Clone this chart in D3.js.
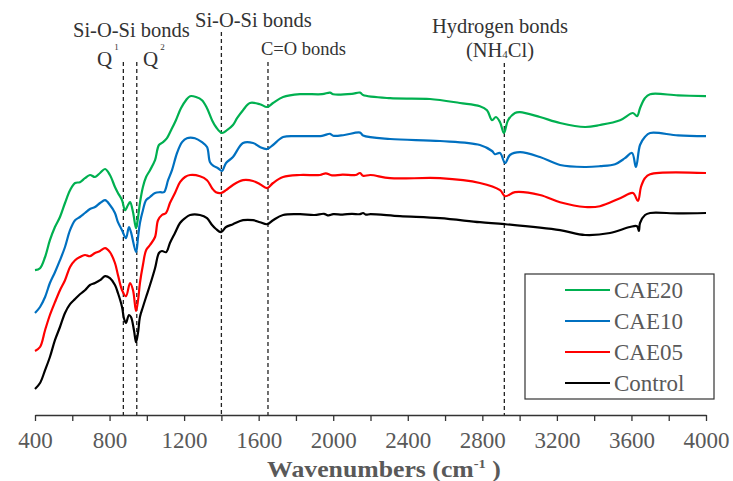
<!DOCTYPE html>
<html>
<head>
<meta charset="utf-8">
<script src="https://cdn.jsdelivr.net/npm/d3@7"></script>
<style>
  body { margin: 0; background: #fff; }
  svg { display: block; }
</style>
</head>
<body>
<div id="chart"></div>
<script>
 const width = 733;
 const height = 481;
 const serif = "Liberation Serif";

 // spectra: [wavenumber, transmittance (a.u.)]
 const control = [
   [400,6.5],[427,8],[454,11.2],[480,14.5],[507,18.7],[534,22],[561,25.5],[588,27.7],[615,29],
   [641,30.2],[668,31.2],[695,32.5],[722,33],[749,33.7],[776,34.7],[802,34.2],[829,32.5],[845,30.5],
   [867,27],[877,24.2],[888,23],[904,25],[915,24.5],[931,21.2],[942,18.2],[953,20.7],[963,24.5],
   [979,27],[996,29.5],[1017,32.5],[1044,36.7],[1065,40.5],[1081,41],[1103,40.7],[1124,43],
   [1151,45.5],[1178,48],[1205,49.2],[1232,50],[1285,50],[1323,49.2],[1350,47.5],[1371,46.5],
   [1398,45.7],[1425,47],[1462,47.7],[1516,48.7],[1570,48.7],[1607,48.2],[1645,47.7],[1677,48.7],
   [1731,50],[1822,50.2],[1900,50],[1950,50.3],[1975,49.9],[2000,50.2],[2050,50.1],[2100,50.3],
   [2144,50.2],[2160,50.5],[2175,50.1],[2200,50.2],[2358,49.7],[2573,49.2],[2787,48.2],[2922,47.7],
   [3217,46.2],[3351,45],[3485,45.5],[3592,47],[3630,47.2],[3640,46],[3646,48],[3673,50],
   [3700,50.5],[3850,50.4],[4000,50.5]
 ];
 const cae05 = [
   [400,16],[427,17],[454,21.2],[480,25],[507,28.2],[534,31.2],[561,33.7],[588,37],[615,38.7],
   [641,39.5],[668,40],[695,39.7],[722,40.5],[749,41],[776,41.7],[802,40.7],[829,38],[845,35],
   [867,31.2],[888,29.7],[910,33],[926,31.2],[942,26],[953,28.7],[963,33],[979,37.5],[996,41.2],
   [1017,42.5],[1044,44.5],[1060,48.7],[1081,50],[1103,50.5],[1124,53],[1151,55.5],[1178,58.2],
   [1205,59.5],[1232,60],[1285,59.7],[1323,58.7],[1350,56.7],[1371,55.7],[1398,55.5],[1425,56.2],
   [1462,57.5],[1516,58.7],[1570,58.5],[1607,57.7],[1645,56.7],[1677,58],[1731,59.5],[1822,60],
   [1929,60],[1960,60.4],[1993,59.9],[2050,60.1],[2120,60],[2144,60.5],[2160,59.8],[2200,60],
   [2305,59.2],[2573,59.2],[2787,58],[2895,56.2],[2922,54.7],[2975,55.7],[3109,55],[3217,53.2],
   [3351,52],[3431,52.2],[3539,54.2],[3608,55.5],[3635,53.5],[3651,57],[3672,59.2],[3700,60.2],
   [4000,60.5]
 ];
 const cae10 = [
   [400,25.5],[427,27],[454,29.5],[480,33],[507,35.7],[534,38.7],[561,42],[588,46.2],[615,48.7],
   [641,49.5],[668,50.5],[695,51.5],[722,52],[749,53],[776,53.7],[802,52.5],[829,50.5],[845,48.2],
   [867,46.2],[888,44.2],[904,47],[915,45.7],[942,40.7],[953,44.5],[963,48],[979,51.2],[996,53.7],
   [1017,54.5],[1044,55.5],[1071,55.7],[1092,55.7],[1114,58.7],[1135,61.2],[1162,65.5],[1189,68.2],
   [1215,69.2],[1258,69.2],[1296,68.2],[1323,67],[1339,63.2],[1360,62.2],[1382,61.7],[1403,61],
   [1425,63],[1462,64.5],[1516,68],[1570,68],[1607,67],[1645,66.5],[1677,67.5],[1731,69.5],
   [1822,69.7],[1940,69.8],[1983,70.3],[2000,69.8],[2060,70],[2144,70.6],[2160,69.9],[2305,69],
   [2573,68.5],[2787,67.5],[2852,66],[2868,65.2],[2895,65.5],[2922,63],[2948,65],[3002,65.7],
   [3109,64.5],[3217,62.5],[3351,62],[3431,62.2],[3512,62.7],[3565,64.2],[3603,65.5],[3624,62],
   [3646,67.5],[3672,69.5],[3700,70.5],[3850,69.9],[4000,69.7]
 ];
 const cae20 = [
   [400,36.2],[427,36.7],[454,39.5],[480,43.7],[507,47],[534,49.5],[561,53],[588,56.2],[615,58],
   [641,58.2],[668,59.2],[695,60],[722,59.5],[749,60.5],[776,61.5],[802,60],[829,57],[845,55.5],
   [867,53.7],[883,51.2],[899,52.5],[910,53.2],[926,50.7],[942,46.7],[953,49.5],[963,53],[979,57],
   [996,59.5],[1017,61.2],[1044,63.7],[1065,67.5],[1087,68.2],[1108,69.2],[1130,71.2],[1156,73.7],
   [1183,76.7],[1210,78.7],[1232,79.7],[1264,79.5],[1296,78.7],[1323,76.7],[1350,73.7],[1371,72],
   [1403,70.5],[1430,71.2],[1462,72.5],[1484,74.2],[1516,76.2],[1553,78],[1607,77.7],[1645,77],
   [1677,78],[1731,79.5],[1822,80.2],[1940,80.2],[1983,80.6],[2000,80.2],[2100,80.3],[2144,80.6],
   [2160,80],[2305,79.2],[2519,79],[2680,78],[2787,77.2],[2825,76.2],[2852,73.7],[2873,74.5],
   [2895,73.2],[2916,70.5],[2938,73.7],[2975,75.5],[3002,75.7],[3109,74.5],[3217,73],[3351,72],
   [3431,72.5],[3539,73.7],[3608,75.5],[3630,74.7],[3646,76.7],[3672,79.2],[3700,80.2],[3850,79.9],
   [4000,79.7]
 ];

 const seriesNames = ["CAE20", "CAE10", "CAE05", "Control"];
 const seriesColors = ["#00b050", "#0070c0", "#ff0000", "#000000"];
 const seriesData = [cae20, cae10, cae05, control];

 const xTicks = d3.range(400, 4001, 200);
 const xLabels = [400, 800, 1200, 1600, 2000, 2400, 2800, 3200, 3600, 4000];

 // marker lines (wavenumber) and where they start
 const markers = [874, 946, 1400, 1650, 2918];
 const markerTops = [62, 62, 32, 62, 63];

 const margin = { top: 15, left: 35, right: 27, bottom: 66 };
 const plotBottom = height - margin.bottom;

 const x = d3.scaleLinear().domain([400, 4000]).range([margin.left, width - margin.right]);
 const y = d3.scaleLinear().domain([0, 100]).range([plotBottom, margin.top]);

 const svg = d3.select("#chart").append("svg")
   .attr("width", width)
   .attr("height", height)
   .attr("font-family", serif);

 // dashed markers
 svg.selectAll(".marker")
   .data(markers)
   .enter()
   .append("line")
   .attr("class", "marker")
   .attr("x1", d => x(d)).attr("x2", d => x(d))
   .attr("y1", (d, i) => markerTops[i])
   .attr("y2", plotBottom)
   .attr("stroke", "#222")
   .attr("stroke-width", 1.3)
   .attr("stroke-dasharray", "4,3");

 // spectra
 const line = d3.line()
   .x(d => x(d[0]))
   .y(d => y(d[1]))
   .curve(d3.curveCatmullRom.alpha(0.5));

 svg.selectAll(".spectrum")
   .data(seriesData)
   .enter()
   .append("path")
   .attr("class", "spectrum")
   .attr("d", line)
   .attr("fill", "none")
   .attr("stroke", (d, i) => seriesColors[i])
   .attr("stroke-width", 2.2)
   .attr("stroke-linejoin", "round");

 // x axis
 const xAxis = svg.append("g")
   .attr("transform", "translate(0," + plotBottom + ")")
   .call(d3.axisBottom(x)
     .tickValues(xTicks)
     .tickSize(6)
     .tickSizeOuter(0)
     .tickPadding(11)
     .tickFormat(d => xLabels.includes(d) ? d : ""));
 xAxis.attr("font-family", serif).attr("font-size", 23);
 xAxis.select(".domain").attr("stroke", "#333").attr("stroke-width", 1.3);
 xAxis.selectAll(".tick line").attr("stroke", "#333").attr("stroke-width", 1.3);
 xAxis.selectAll(".tick text").attr("fill", "#595959");

 // axis title (the original is a little wider than tall)
 const title = svg.append("text")
   .attr("transform", "translate(384,477) scale(1.12,1)")
   .attr("text-anchor", "middle")
   .attr("fill", "#595959")
   .attr("font-size", 23)
   .attr("font-weight", "bold");
 title.append("tspan").text("Wavenumbers (cm");
 title.append("tspan").attr("dy", -9).attr("font-size", 13).text("-1");
 title.append("tspan").attr("dy", 9).text(" )");

 // annotations
 const ann = svg.append("g").attr("fill", "#333");
 ann.append("text").attr("x", 73).attr("y", 37).attr("font-size", 20.5).text("Si-O-Si bonds");
 ann.append("text").attr("x", 195).attr("y", 27).attr("font-size", 20.5).text("Si-O-Si bonds");
 ann.append("text").attr("x", 261).attr("y", 55).attr("font-size", 18.5).text("C=O bonds");
 ann.append("text").attr("x", 500).attr("y", 33).attr("text-anchor", "middle")
   .attr("font-size", 20.5).text("Hydrogen bonds");
 const nh = ann.append("text").attr("x", 500).attr("y", 57).attr("text-anchor", "middle")
   .attr("font-size", 20.5);
 nh.append("tspan").text("(NH");
 nh.append("tspan").attr("dy", 1).attr("font-size", 11).text("4");
 nh.append("tspan").attr("dy", -1).text("Cl)");

 const q1 = ann.append("text").attr("x", 97).attr("y", 66).attr("font-size", 21);
 q1.append("tspan").text("Q");
 q1.append("tspan").attr("dx", 2).attr("dy", -16).attr("font-size", 9).text("1");
 const q2 = ann.append("text").attr("x", 143).attr("y", 66).attr("font-size", 21);
 q2.append("tspan").text("Q");
 q2.append("tspan").attr("dx", 2).attr("dy", -16).attr("font-size", 9).text("2");

 // legend
 const legend = svg.append("g");
 legend.append("rect")
   .attr("x", 525).attr("y", 274)
   .attr("width", 189).attr("height", 125)
   .attr("fill", "#fff")
   .attr("stroke", "#333")
   .attr("stroke-width", 1.2);

 const rows = legend.selectAll(".row")
   .data(seriesNames)
   .enter()
   .append("g")
   .attr("transform", (d, i) => "translate(0," + (290 + i * 31) + ")");
 rows.append("line")
   .attr("x1", 565).attr("x2", 610)
   .attr("stroke", (d, i) => seriesColors[i])
   .attr("stroke-width", 2.2);
 rows.append("text")
   .attr("x", 614)
   .attr("y", 8)
   .attr("fill", "#595959")
   .attr("font-size", 23)
   .text(d => d);
</script>
</body>
</html>
